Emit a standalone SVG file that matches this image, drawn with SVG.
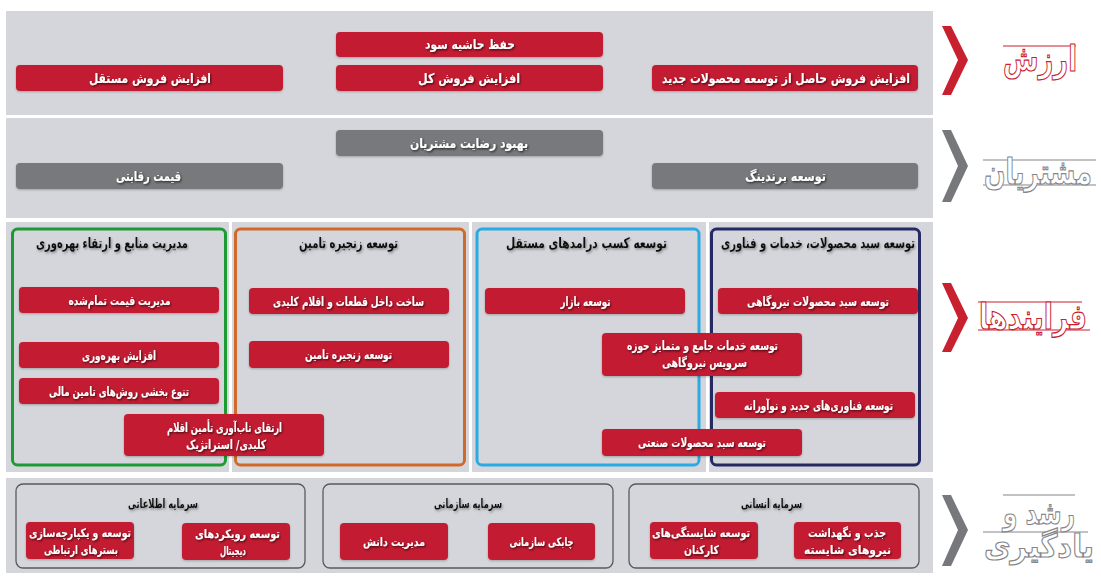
<svg xmlns="http://www.w3.org/2000/svg" width="1101" height="586" viewBox="0 0 1101 586">
<defs>
<filter id="sh" x="-10%" y="-30%" width="120%" height="160%">
<feDropShadow dx="1" dy="1.2" stdDeviation="0.8" flood-color="#000" flood-opacity="0.7"/>
</filter>
<filter id="sh2" x="-10%" y="-30%" width="120%" height="160%">
<feDropShadow dx="1" dy="1.5" stdDeviation="1.2" flood-color="#555" flood-opacity="0.6"/>
</filter>
<filter id="bs" x="-5%" y="-20%" width="110%" height="150%">
<feDropShadow dx="0" dy="1" stdDeviation="0.8" flood-color="#000" flood-opacity="0.25"/>
</filter>
</defs>
<style>
.band{fill:#d5d6db}
.red{fill:#c31f32;filter:url(#bs)}
.gray{fill:#78797c;filter:url(#bs)}
.t{font-family:"DejaVu Sans",sans-serif;font-weight:bold;font-size:13.5px;fill:#fff;text-anchor:middle;direction:rtl;filter:url(#sh)}
.s{font-size:12.5px}
.xs{font-size:12px}
.h{font-family:"DejaVu Sans",sans-serif;font-weight:bold;font-size:14.5px;fill:#111;text-anchor:middle;direction:rtl;filter:url(#sh2)}
.hs{font-size:12.5px}
.frame{fill:none;stroke-width:3}
.cap{fill:none;stroke:#5a5a5c;stroke-width:1.3}
.lbl{font-family:"DejaVu Sans",sans-serif;font-weight:bold;fill:#fff;stroke-width:1.2;text-anchor:middle;direction:rtl}
.lr{stroke:#c8202f}
.lg{stroke:#85868a}
.ln{stroke-width:1.2}
.chr{fill:#c8202f}
.chg{fill:#77787b}
</style>
<rect width="1101" height="586" fill="#fff"/>

<g id="bands">
<rect class="band" x="6" y="11" width="927" height="104"/>
<rect class="band" x="6" y="118" width="927" height="100"/>
<rect class="band" x="6" y="222" width="223" height="250"/>
<rect class="band" x="232" y="222" width="237" height="250"/>
<rect class="band" x="472" y="222" width="234" height="250"/>
<rect class="band" x="709" y="222" width="224" height="250"/>
<rect class="band" x="6" y="478" width="927" height="95"/>
</g>

<g id="connectors"/>

<!-- Value row -->
<g id="n-hefz"><rect class="red" x="336" y="32" width="267" height="25" rx="4"/><text class="t" x="470" y="49" textLength="90" lengthAdjust="spacingAndGlyphs">حفظ حاشیه سود</text></g>
<g id="n-foroush-kol"><rect class="red" x="336" y="65" width="267" height="26" rx="4"/><text class="t" x="469" y="82.5" textLength="102" lengthAdjust="spacingAndGlyphs">افزایش فروش کل</text></g>
<g id="n-foroush-mostaghel"><rect class="red" x="16" y="65" width="267" height="26" rx="4"/><text class="t" x="150" y="82.5" textLength="122" lengthAdjust="spacingAndGlyphs">افزایش فروش مستقل</text></g>
<g id="n-foroush-jadid"><rect class="red" x="652" y="65" width="266" height="26" rx="4"/><text class="t" x="786" y="82.5" textLength="248" lengthAdjust="spacingAndGlyphs">افزایش فروش حاصل از توسعه محصولات جدید</text></g>

<!-- Customer row -->
<g id="n-rezayat"><rect class="gray" x="336" y="130" width="267" height="26" rx="4"/><text class="t" x="469" y="147.5" textLength="118" lengthAdjust="spacingAndGlyphs">بهبود رضایت مشتریان</text></g>
<g id="n-gheymat"><rect class="gray" x="16" y="163" width="267" height="26" rx="4"/><text class="t" x="148.5" y="180.5" textLength="65" lengthAdjust="spacingAndGlyphs">قیمت رقابتی</text></g>
<g id="n-branding"><rect class="gray" x="652" y="163" width="266" height="26" rx="4"/><text class="t" x="785.5" y="180.5" textLength="81" lengthAdjust="spacingAndGlyphs">توسعه برندینگ</text></g>

<!-- Process columns -->
<g id="c-manabe">
<rect class="frame" x="12.5" y="229" width="213" height="236" rx="5" stroke="#1c9b34"/>
<text class="h" x="112" y="247.5" textLength="152" lengthAdjust="spacingAndGlyphs">مدیریت منابع و ارتقاء بهره‌وری</text>
</g>
<g id="c-zanjire">
<rect class="frame" x="235.5" y="229" width="229" height="236" rx="5" stroke="#cf6a2b"/>
<text class="h" x="348.5" y="247.5" textLength="99" lengthAdjust="spacingAndGlyphs">توسعه زنجیره تامین</text>
</g>
<g id="c-kasb">
<rect class="frame" x="477" y="229" width="222" height="236" rx="5" stroke="#2aaae2"/>
<text class="h" x="586.5" y="247.5" textLength="161" lengthAdjust="spacingAndGlyphs">توسعه کسب درامدهای مستقل</text>
</g>
<g id="c-sabad">
<rect class="frame" x="711.5" y="229" width="208" height="236" rx="5" stroke="#252a62"/>
<text class="h" x="818" y="247.5" textLength="194" lengthAdjust="spacingAndGlyphs">توسعه سبد محصولات، خدمات و فناوری</text>
</g>

<g id="n-gheymat-tamam"><rect class="red" x="19" y="287" width="200" height="26" rx="4"/><text class="t s" x="119.5" y="304.5" textLength="102" lengthAdjust="spacingAndGlyphs">مدیریت قیمت تمام‌شده</text></g>
<g id="n-bahrevari"><rect class="red" x="19" y="342" width="200" height="26" rx="4"/><text class="t s" x="119" y="359.5" textLength="74" lengthAdjust="spacingAndGlyphs">افزایش بهره‌وری</text></g>
<g id="n-tamin-mali"><rect class="red" x="19" y="378" width="200" height="26" rx="4"/><text class="t s" x="119" y="395.5" textLength="140" lengthAdjust="spacingAndGlyphs">تنوع بخشی روش‌های تامین مالی</text></g>
<g id="n-tabavari"><rect class="red" x="124" y="414" width="200" height="42" rx="4"/><text class="t s" x="224.5" y="432" textLength="115" lengthAdjust="spacingAndGlyphs">ارتقای تاب‌آوری تأمین اقلام</text><text class="t s" x="226" y="448.5" textLength="80" lengthAdjust="spacingAndGlyphs">کلیدی/ استراتژیک</text></g>

<g id="n-sakht-dakhel"><rect class="red" x="249" y="288" width="200" height="26" rx="4"/><text class="t s" x="348.5" y="305.5" textLength="151" lengthAdjust="spacingAndGlyphs">ساخت داخل قطعات و اقلام کلیدی</text></g>
<g id="n-zanjire"><rect class="red" x="249" y="341" width="200" height="27" rx="4"/><text class="t s" x="348.5" y="359" textLength="87" lengthAdjust="spacingAndGlyphs">توسعه زنجیره تامین</text></g>

<g id="n-bazar"><rect class="red" x="485" y="288" width="200" height="26" rx="4"/><text class="t s" x="585.5" y="305.5" textLength="50" lengthAdjust="spacingAndGlyphs">توسعه بازار</text></g>
<g id="n-khadamat"><rect class="red" x="602" y="333" width="200" height="43" rx="4"/><text class="t s" x="702.5" y="349.5" textLength="151" lengthAdjust="spacingAndGlyphs">توسعه خدمات جامع و متمایز حوزه</text><text class="t s" x="704.5" y="366.5" textLength="85" lengthAdjust="spacingAndGlyphs">سرویس نیروگاهی</text></g>
<g id="n-sanati"><rect class="red" x="602" y="429" width="200" height="27" rx="4"/><text class="t s" x="702" y="447" textLength="128" lengthAdjust="spacingAndGlyphs">توسعه سبد محصولات صنعتی</text></g>

<g id="n-niroogahi"><rect class="red" x="718" y="288" width="200" height="26" rx="4"/><text class="t s" x="818" y="305.5" textLength="142" lengthAdjust="spacingAndGlyphs">توسعه سبد محصولات نیروگاهی</text></g>
<g id="n-fanavari"><rect class="red" x="715" y="392" width="200" height="26" rx="4"/><text class="t s" x="818.5" y="409.5" textLength="149" lengthAdjust="spacingAndGlyphs">توسعه فناوری‌های جدید و نوآورانه</text></g>

<!-- Learning row -->
<g id="c-etelaati">
<rect class="cap" x="16" y="484" width="289" height="84" rx="7"/>
<text class="h hs" x="163" y="508" textLength="70" lengthAdjust="spacingAndGlyphs">سرمایه اطلاعاتی</text>
</g>
<g id="c-sazmani">
<rect class="cap" x="323" y="484" width="290" height="84" rx="7"/>
<text class="h hs" x="468" y="508" textLength="68" lengthAdjust="spacingAndGlyphs">سرمایه سازمانی</text>
</g>
<g id="c-ensani">
<rect class="cap" x="629" y="484" width="290" height="84" rx="7"/>
<text class="h hs" x="771.5" y="508" textLength="61" lengthAdjust="spacingAndGlyphs">سرمایه انسانی</text>
</g>

<g id="n-bastar"><rect class="red" x="26" y="522" width="108" height="37" rx="4"/><text class="t xs" x="80" y="537" textLength="102" lengthAdjust="spacingAndGlyphs">توسعه و یکپارچه‌سازی</text><text class="t xs" x="81" y="554" textLength="74" lengthAdjust="spacingAndGlyphs">بسترهای ارتباطی</text></g>
<g id="n-digital"><rect class="red" x="182" y="523" width="108" height="37" rx="4"/><text class="t xs" x="237.5" y="538" textLength="85" lengthAdjust="spacingAndGlyphs">توسعه رویکردهای</text><text class="t xs" x="233" y="555" textLength="26" lengthAdjust="spacingAndGlyphs">دیجیتال</text></g>
<g id="n-danesh"><rect class="red" x="340" y="523" width="108" height="37" rx="4"/><text class="t xs" x="394" y="545.5" textLength="62" lengthAdjust="spacingAndGlyphs">مدیریت دانش</text></g>
<g id="n-chaboki"><rect class="red" x="488" y="523" width="107" height="37" rx="4"/><text class="t xs" x="541.5" y="545.5" textLength="64" lengthAdjust="spacingAndGlyphs">چابکی سازمانی</text></g>
<g id="n-shayestegi"><rect class="red" x="650" y="522" width="108" height="37" rx="4"/><text class="t xs" x="701" y="537" textLength="98" lengthAdjust="spacingAndGlyphs">توسعه شایستگی‌های</text><text class="t xs" x="701.5" y="554" textLength="35" lengthAdjust="spacingAndGlyphs">کارکنان</text></g>
<g id="n-jazb"><rect class="red" x="794" y="522" width="107" height="37" rx="4"/><text class="t xs" x="847" y="537" textLength="78" lengthAdjust="spacingAndGlyphs">جذب و نگهداشت</text><text class="t xs" x="847.5" y="554" textLength="87" lengthAdjust="spacingAndGlyphs">نیروهای شایسته</text></g>

<!-- Perspective labels -->
<g id="p-arzesh">
<polygon class="chr" points="942,26 951,26 968,60 951,95 942,95 958,60"/>
<line class="lr ln" x1="1003" y1="46" x2="1076" y2="46"/>
<text class="lbl lr" x="1040" y="71" font-size="36" textLength="74" lengthAdjust="spacingAndGlyphs">ارزش</text>
</g>
<g id="p-moshtarian">
<polygon class="chg" points="942,130 951,130 968,166 951,202 942,202 958,166"/>
<line class="lg ln" x1="983" y1="160" x2="1096" y2="160"/>
<line class="lg ln" x1="983" y1="185" x2="1096" y2="185"/>
<text class="lbl lg" x="1038" y="184" font-size="35" textLength="108" lengthAdjust="spacingAndGlyphs">مشتریان</text>
</g>
<g id="p-farayand">
<polygon class="chr" points="942,283 951,283 968,318 951,352 942,352 958,318"/>
<line class="lr ln" x1="978" y1="302" x2="1082" y2="302"/>
<line class="lr ln" x1="978" y1="330" x2="1090" y2="330"/>
<text class="lbl lr" x="1033" y="329" font-size="35" textLength="108" lengthAdjust="spacingAndGlyphs">فرایندها</text>
</g>
<g id="p-roshd">
<polygon class="chg" points="942,495 951,495 968,530 951,566 942,566 958,530"/>
<line class="lg ln" x1="1003" y1="495" x2="1075" y2="495"/>
<line class="lg ln" x1="983" y1="532" x2="1088" y2="532"/>
<text class="lbl lg" x="1039" y="524" font-size="32" textLength="72" lengthAdjust="spacingAndGlyphs">رشد و</text>
<text class="lbl lg" x="1039" y="557" font-size="32" textLength="110" lengthAdjust="spacingAndGlyphs">یادگیری</text>
</g>
</svg>
